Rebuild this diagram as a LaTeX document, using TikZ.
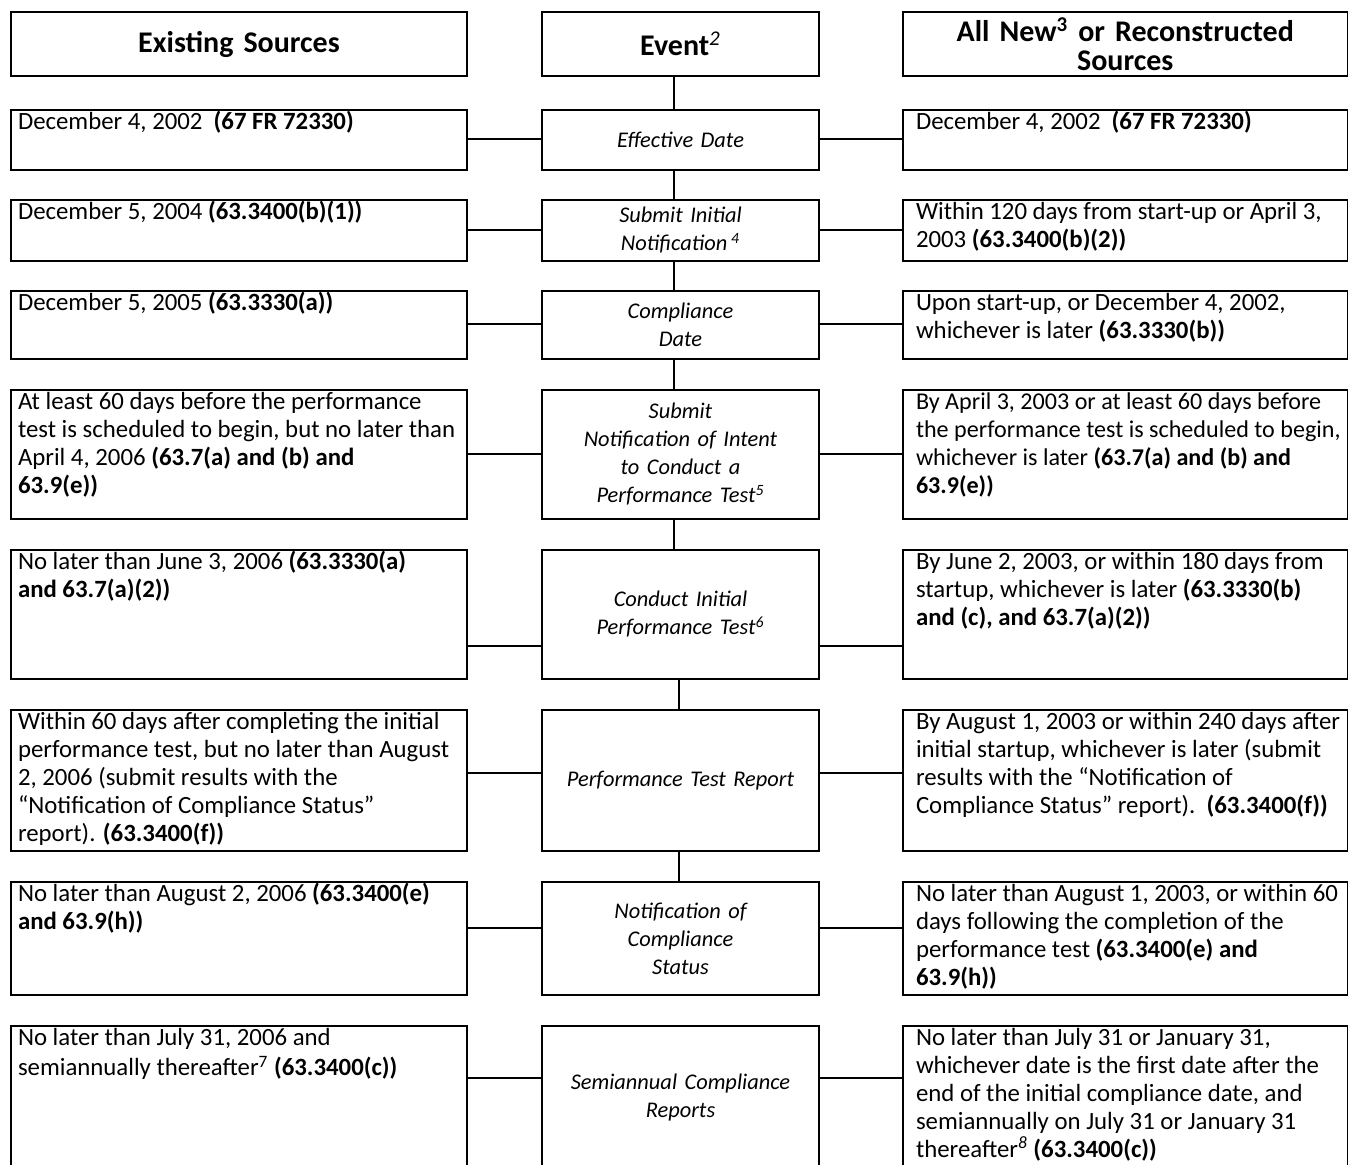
\documentclass[tikz,border=0pt]{standalone}
\usepackage{fontspec}
\setmainfont{Carlito}
\newcommand{\lcell}[2]{\parbox[c][#1][t]{228pt}{\raggedright\leftskip=3.5pt\rightskip=-30pt plus 1fil\strut #2}}
\newcommand{\rcell}[2]{\parbox[c][#1][t]{222.25pt}{\raggedright\leftskip=6.5pt\rightskip=-30pt plus 1fil\strut #2}}
\tikzset{
  srcbox/.style={draw, line width=1pt, inner sep=0pt, anchor=north west,
    font=\fontsize{12.4}{14}\selectfont},
  evtbox/.style={draw, line width=1pt, inner sep=0pt, anchor=north west,
    text width=138.5pt, align=center, font=\fontsize{11.2}{14}\selectfont\itshape},
  headbox/.style={draw, line width=1pt, inner sep=0pt, anchor=north west,
    align=center, minimum height=32pt, font=\fontsize{15}{14.5}\selectfont\bfseries},
  link/.style={line width=1pt}
}
\begin{document}
\begin{tikzpicture}[x=0.5pt,y=-0.5pt]
  \useasboundingbox (0,0) rectangle (1348,1164);
  % column heads
  \node[headbox,text width=228pt] (lh) at (10,11) {Existing Sources};
  \node[headbox,text width=138.5pt] (mh) at (541,11) {Event\textsuperscript{\mdseries\itshape 2}};
  \node[headbox,text width=222.25pt] (rh) at (902,11) {All New\textsuperscript{3} or Reconstructed\\Sources};
  % effective date
  \node[srcbox] (l1) at (10,109) {\lcell{30pt}{December 4, 2002\ \ \textbf{(67 FR 72330)}}};
  \node[evtbox,minimum height=30pt] (m1) at (541,109) {Effective Date};
  \node[srcbox] (r1) at (902,109) {\rcell{30pt}{December 4, 2002\ \ \textbf{(67 FR 72330)}}};
  % initial notification
  \node[srcbox] (l2) at (10,199) {\lcell{30.5pt}{December 5, 2004 \textbf{(63.3400(b)(1))}}};
  \node[evtbox,minimum height=30.5pt] (m2) at (541,199) {Submit Initial\\Notification\,\textsuperscript{4}};
  \node[srcbox] (r2) at (902,199) {\rcell{30.5pt}{Within 120 days from start-up or April 3,\\2003 \textbf{(63.3400(b)(2))}}};
  % compliance date
  \node[srcbox] (l3) at (10,290) {\lcell{34pt}{December 5, 2005 \textbf{(63.3330(a))}}};
  \node[evtbox,minimum height=34pt] (m3) at (541,290) {Compliance\\Date};
  \node[srcbox] (r3) at (902,290) {\rcell{34pt}{Upon start-up, or December 4, 2002,\\whichever is later \textbf{(63.3330(b))}}};
  % notification of intent
  \node[srcbox] (l4) at (10,389) {\lcell{64.5pt}{At least 60 days before the performance\\test is scheduled to begin, but no later than\\April 4, 2006 \textbf{(63.7(a) and (b) and\\63.9(e))}}};
  \node[evtbox,minimum height=64.5pt] (m4) at (541,389) {Submit\\Notification of Intent\\to Conduct a\\Performance Test\textsuperscript{5}};
  \node[srcbox] (r4) at (902,389) {\rcell{64.5pt}{\fontsize{12.05}{14}\selectfont By April 3, 2003 or at least 60 days before\\the performance test is scheduled to begin,\\whichever is later \textbf{(63.7(a) and (b) and\\63.9(e))}}};
  % initial test
  \node[srcbox] (l5) at (10,549) {\lcell{64.5pt}{No later than June 3, 2006 \textbf{(63.3330(a)\\and 63.7(a)(2))}}};
  \node[evtbox,minimum height=64.5pt] (m5) at (541,549) {Conduct Initial\\Performance Test\textsuperscript{6}};
  \node[srcbox] (r5) at (902,549) {\rcell{64.5pt}{By June 2, 2003, or within 180 days from\\startup, whichever is later \textbf{(63.3330(b)\\and (c), and 63.7(a)(2))}}};
  % test report
  \node[srcbox] (l6) at (10,709) {\lcell{70.5pt}{Within 60 days after completing the initial\\performance test, but no later than August\\2, 2006 (submit results with the\\“Notification of Compliance Status”\\report). \textbf{(63.3400(f))}}};
  \node[evtbox,minimum height=70.5pt] (m6) at (541,709) {Performance Test Report};
  \node[srcbox] (r6) at (902,709) {\rcell{70.5pt}{By August 1, 2003 or within 240 days after\\initial startup, whichever is later (submit\\results with the “Notification of\\Compliance Status” report).\ \ \textbf{(63.3400(f))}}};
  % compliance status
  \node[srcbox] (l7) at (10,881) {\lcell{56.5pt}{No later than August 2, 2006 \textbf{(63.3400(e)\\and 63.9(h))}}};
  \node[evtbox,minimum height=56.5pt] (m7) at (541,881) {Notification of\\Compliance\\Status};
  \node[srcbox] (r7) at (902,881) {\rcell{56.5pt}{No later than August 1, 2003, or within 60\\days following the completion of the\\performance test \textbf{(63.3400(e) and\\63.9(h))}}};
  % semiannual reports
  \node[srcbox] (l8) at (10,1025) {\lcell{71.5pt}{No later than July 31, 2006 and\\semiannually thereafter\textsuperscript{7} \textbf{(63.3400(c))}}};
  \node[evtbox,minimum height=71.5pt] (m8) at (541,1025) {Semiannual Compliance\\Reports};
  \node[srcbox] (r8) at (902,1025) {\rcell{71.5pt}{No later than July 31 or January 31,\\whichever date is the first date after the\\end of the initial compliance date, and\\semiannually on July 31 or January 31\\thereafter\textsuperscript{\itshape 8} \textbf{(63.3400(c))}}};
  % connectors
  \foreach \r/\cy in {1/139,2/230,3/324,4/454,5/646,6/773,7/928,8/1078}
    \draw[link] (l\r.east|-0,\cy) -- (m\r.west|-0,\cy)
                (m\r.east|-0,\cy) -- (r\r.west|-0,\cy);
  \foreach \a/\b in {mh/m1,m1/m2,m2/m3,m3/m4,m4/m5}
    \draw[link] (\a.south-|674,0) -- (\b.north-|674,0);
  \foreach \a/\b in {m5/m6,m6/m7}
    \draw[link] (\a.south-|679,0) -- (\b.north-|679,0);
\end{tikzpicture}
\end{document}
